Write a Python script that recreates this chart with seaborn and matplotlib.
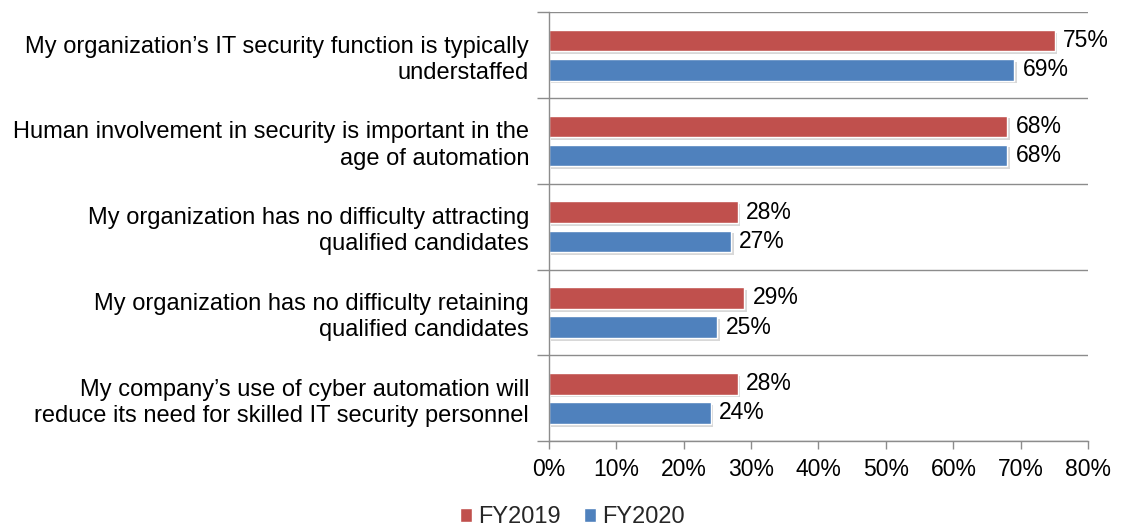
import matplotlib
matplotlib.use("Agg")
import matplotlib.pyplot as plt
import matplotlib.patheffects as pe
from matplotlib.ticker import FixedLocator, FuncFormatter
import seaborn as sns
import pandas as pd

categories = [
    "My organization\u2019s IT security function is typically\nunderstaffed",
    "Human involvement in security is important in the\nage of automation",
    "My organization has no difficulty attracting\nqualified candidates",
    "My organization has no difficulty retaining\nqualified candidates",
    "My company\u2019s use of cyber automation will\nreduce its need for skilled IT security personnel",
]
fy2019 = [75, 68, 28, 29, 28]
fy2020 = [69, 68, 27, 25, 24]
series = ["FY2019", "FY2020"]
colors = ["#C0504D", "#4F81BD"]

df = pd.DataFrame({
    "category": categories * 2,
    "value": fy2019 + fy2020,
    "year": [series[0]] * len(categories) + [series[1]] * len(categories),
})

sns.set_theme(style="white")
plt.rcParams["font.family"] = ["Liberation Sans", "DejaVu Sans"]
FS = 17

fig = plt.figure(figsize=(11.22, 5.31), dpi=100)
ax = fig.add_axes([0.489, 0.169, 0.481, 0.808])

sns.barplot(data=df, y="category", x="value", hue="year", order=categories,
            hue_order=series, palette=colors, orient="h", width=0.68, gap=0.26,
            saturation=1, edgecolor="white", linewidth=1.0, ax=ax, legend=True)

shadow = [pe.SimplePatchShadow(offset=(2, -2), shadow_rgbFace="#808080", alpha=0.3), pe.Normal()]
for cont in ax.containers:
    for bar in cont:
        bar.set_path_effects(shadow)
    ax.bar_label(cont, labels=[f"{v:.0f}%" for v in cont.datavalues],
                 padding=6, fontsize=FS - 0.5, color="black")

ax.set_xlim(0, 80)
ax.set_ylim(len(categories) - 0.5, -0.5)
ax.set_xticks(range(0, 81, 10))
ax.xaxis.set_major_formatter(FuncFormatter(lambda v, p: f"{v:.0f}%"))
ax.tick_params(axis="x", which="major", length=6, width=1, color="#8C8C8C",
               direction="out", bottom=True, labelsize=FS - 0.5, pad=6, labelcolor="black")

ax.set_yticks(range(len(categories)))
ax.set_yticklabels(categories, fontsize=FS, color="black", linespacing=1.25)
ax.tick_params(axis="y", which="major", length=0, pad=14)
ax.yaxis.set_minor_locator(FixedLocator([i - 0.5 for i in range(len(categories) + 1)]))
ax.tick_params(axis="y", which="minor", length=9, width=1, color="#8C8C8C", left=True, direction="out")
ax.grid(axis="y", which="minor", color="#8C8C8C", linewidth=1)
ax.grid(axis="x", visible=False)
ax.grid(axis="y", which="major", visible=False)

for s in ["top", "right"]:
    ax.spines[s].set_visible(False)
for s in ["left", "bottom"]:
    ax.spines[s].set_color("#8C8C8C")
    ax.spines[s].set_linewidth(1)

ax.set_xlabel("")
ax.set_ylabel("")

handles, labels = ax.get_legend_handles_labels()
ax.legend_.remove()
fig.legend(handles, labels, loc="center", bbox_to_anchor=(0.51, 0.026), ncol=2,
           frameon=False, fontsize=FS, handlelength=0.5, handleheight=0.5,
           handletextpad=0.25, columnspacing=1.0, borderpad=0)

fig.savefig("out.png", dpi=100)
